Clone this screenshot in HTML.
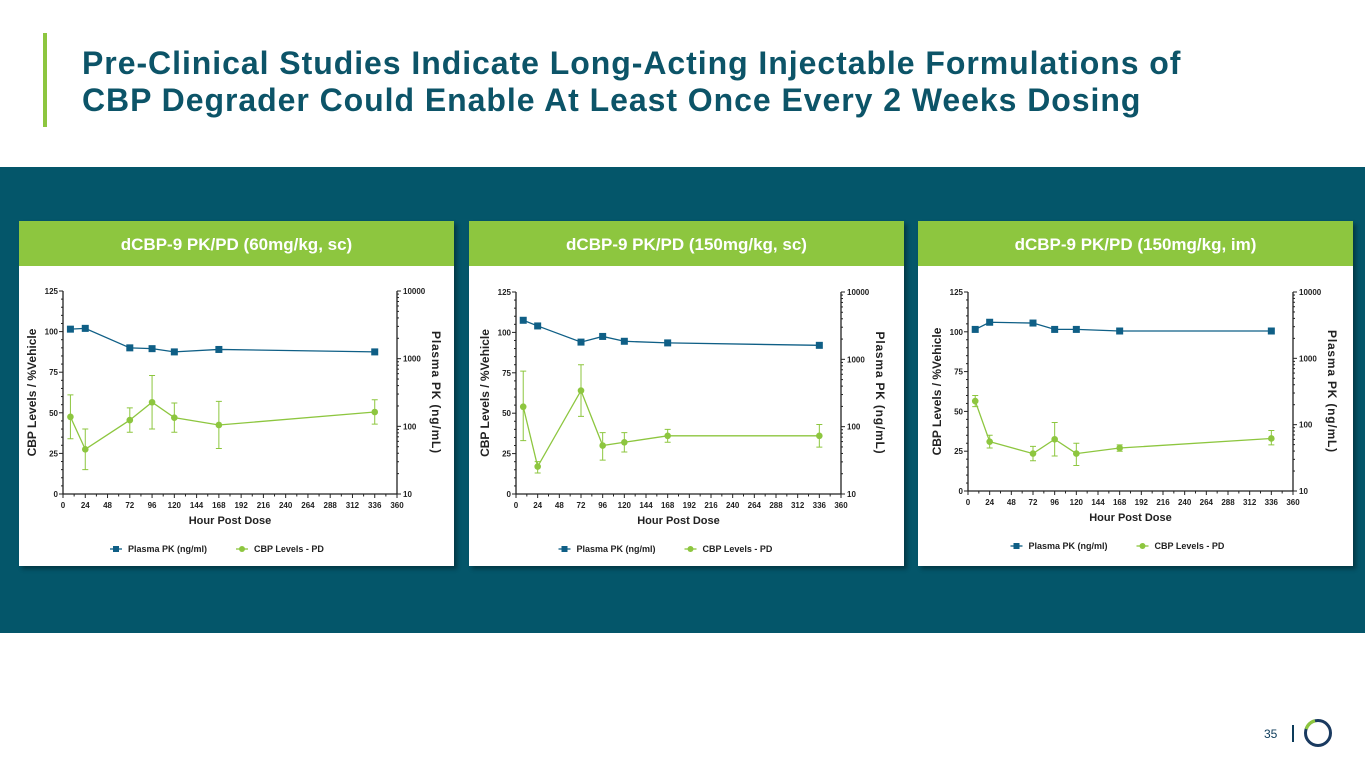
<!DOCTYPE html>
<html><head><meta charset="utf-8">
<style>
body{margin:0;width:1365px;height:768px;overflow:hidden;background:#fff;font-family:"Liberation Sans",Arial,sans-serif;position:relative}
.abs{position:absolute}
#title{left:82px;top:45px;font-size:32px;font-weight:bold;color:#0c5468;line-height:37px;letter-spacing:0.95px;white-space:nowrap}
#bar{left:43px;top:33px;width:4px;height:94px;background:#8dc63f}
#band{left:0;top:167px;width:1365px;height:466px;background:#04566a}
.panel{background:#fff;top:221px;height:345px;width:435px;box-shadow:3px 3px 4px rgba(0,0,0,.35)}
.head{position:absolute;left:0;top:0;width:100%;height:45px;background:#8dc63f;color:#fff;font-weight:bold;font-size:17px;text-align:center;line-height:47px}
svg text{font-family:"Liberation Sans",Arial,sans-serif;font-weight:bold;fill:#222}
</style></head><body>
<div class="abs" id="bar"></div>
<div class="abs" id="title">Pre-Clinical Studies Indicate Long-Acting Injectable Formulations of<br>CBP Degrader Could Enable At Least Once Every 2 Weeks Dosing</div>
<div class="abs" id="band"></div>
<div class="abs panel" style="left:19px"><div class="head">dCBP-9 PK/PD (60mg/kg, sc)</div></div>
<div class="abs panel" style="left:469px"><div class="head">dCBP-9 PK/PD (150mg/kg, sc)</div></div>
<div class="abs panel" style="left:918px"><div class="head">dCBP-9 PK/PD (150mg/kg, im)</div></div>
<svg class="abs" style="left:0;top:0" width="1365" height="768" id="charts"></svg>
<div class="abs" style="left:1264px;top:727px;font-size:12px;color:#0c3b5a">35</div>
<div class="abs" style="left:1292px;top:725px;width:1.5px;height:17px;background:#0c3b5a"></div>
<svg class="abs" style="left:1303px;top:718px" width="30" height="30">
<circle cx="15" cy="15" r="12.5" fill="none" stroke="#1a3a60" stroke-width="3"/>
<path d="M3.2 11 A12.5 12.5 0 0 1 12 2.8" fill="none" stroke="#8dc63f" stroke-width="3.2"/>
</svg>
<script>
const hours1=[8,24,72,96,120,168,336];
const pk1=[2730,2805,1445,1406,1259,1368,1259];
const pkErr1=[0.08,0.1,0.02,0.02,0.02,0.02,0.08];
const pd1=[47.5,27.5,45.5,56.5,47,42.5,50.5];
const pdLo1=[34,15,38,40,38,28,43];
const pdHi1=[61,40,53,73,56,57,58];
const hours2=[8,24,72,96,120,168,336];
const pk2=[3802,3133,1803,2188,1854,1754,1614];
const pkErr2=[0.02,0.02,0.08,0.02,0.05,0.02,0.02];
const pd2=[54,17,64,30,32,36,36];
const pdLo2=[33,13,48,21,26,32,29];
const pdHi2=[76,20,80,38,38,40,43];
const hours3=[8,24,72,96,120,168,336];
const pk3=[2729,3499,3404,2729,2729,2582,2582];
const pkErr3=[0.02,0.02,0.02,0.02,0.02,0.02,0.05];
const pd3=[56.5,31,23.5,32.5,23.5,27,33];
const pdLo3=[53,27,19,22,16,25,29];
const pdHi3=[60,35,28,43,30,29,38];
const xTicks=[0,24,48,72,96,120,144,168,192,216,240,264,288,312,336,360];
const yTicks=[0,25,50,75,100,125];
const rTicks=[10,100,1000,10000];
const NS='http://www.w3.org/2000/svg';
const svg=document.getElementById('charts');
function el(t,a,p){const e=document.createElementNS(NS,t);for(const k in a)e.setAttribute(k,a[k]);(p||svg).appendChild(e);return e;}
function txt(s,a,p){const e=el('text',a,p);e.textContent=s;return e;}
const BLUE='#0f5f86',GREEN='#8dc63f';
function chart(name,x0,x1,y0,y1,hours,pk,pkErr,pd,lo,hi){
  const g=el('g',{});
  
  
  const X=h=>x0+(x1-x0)*h/360;
  const Y=v=>y0-(y0-y1)*v/125;
  const YL=p=>y0-(y0-y1)*(Math.log10(p)-1)/3;
  el('path',{d:`M${x0} ${y1}V${y0}H${x1}`,stroke:'#222','stroke-width':1.3,fill:'none'},g);
  el('path',{d:`M${x1} ${y1}V${y0}`,stroke:'#222','stroke-width':1.3,fill:'none'},g);
  xTicks.forEach((t,i)=>{el('line',{x1:X(t),x2:X(t),y1:y0,y2:y0+4,stroke:'#222'},g);
    if(i<xTicks.length-1)el('line',{x1:X(t+12),x2:X(t+12),y1:y0,y2:y0+2.5,stroke:'#222'},g);
    txt(t,{x:X(t),y:y0+14,'font-size':8,'text-anchor':'middle'},g);});
  yTicks.forEach(t=>{el('line',{x1:x0-4,x2:x0,y1:Y(t),y2:Y(t),stroke:'#222'},g);
    txt(t,{x:x0-5,y:Y(t)+3,'font-size':8,'text-anchor':'end'},g);});
  for(let t=5;t<125;t+=5)if(t%25)el('line',{x1:x0-2,x2:x0,y1:Y(t),y2:Y(t),stroke:'#222'},g);
  rTicks.forEach(t=>{el('line',{x1:x1,x2:x1+4,y1:YL(t),y2:YL(t),stroke:'#222'},g);
    txt(t,{x:x1+6,y:YL(t)+3,'font-size':8},g);});
  for(let d=10;d<10000;d*=10)for(let m=2;m<10;m++)el('line',{x1:x1,x2:x1+2,y1:YL(d*m),y2:YL(d*m),stroke:'#222'},g);
  const ym=(y0+y1)/2;
  txt('CBP Levels / %Vehicle',{x:0,y:0,'font-size':12,'text-anchor':'middle',transform:`translate(${x0-27},${ym}) rotate(-90)`},g);
  txt('Plasma  PK (ng/mL)',{x:0,y:0,'font-size':12,'letter-spacing':0.8,'text-anchor':'middle',transform:`translate(${x1+35},${ym}) rotate(90)`},g);
  txt('Hour Post Dose',{x:(x0+x1)/2,y:y0+30,'font-size':11,'text-anchor':'middle'},g);
  const lx=(x0+x1)/2-120, ly=y0+55;
  el('line',{x1:lx,x2:lx+12,y1:ly,y2:ly,stroke:BLUE,'stroke-width':1.3},g);
  el('rect',{x:lx+3,y:ly-3,width:6,height:6,fill:BLUE},g);
  txt('Plasma PK (ng/ml)',{x:lx+18,y:ly+3,'font-size':9},g);
  el('line',{x1:lx+126,x2:lx+138,y1:ly,y2:ly,stroke:GREEN,'stroke-width':1.3},g);
  el('circle',{cx:lx+132,cy:ly,r:3,fill:GREEN},g);
  txt('CBP Levels - PD',{x:lx+144,y:ly+3,'font-size':9},g);
  el('polyline',{points:hours.map((h,i)=>X(h)+','+YL(pk[i])).join(' '),fill:'none',stroke:BLUE,'stroke-width':1.3},g);
  hours.forEach((h,i)=>{const a=YL(pk[i]*(1+pkErr[i])),b=YL(pk[i]/(1+pkErr[i]));
    el('path',{d:`M${X(h)} ${a}V${b}M${X(h)-3} ${a}h6M${X(h)-3} ${b}h6`,stroke:BLUE,fill:'none'},g);
    el('rect',{x:X(h)-3.5,y:YL(pk[i])-3.5,width:7,height:7,fill:BLUE},g);});
  el('polyline',{points:hours.map((h,i)=>X(h)+','+Y(pd[i])).join(' '),fill:'none',stroke:GREEN,'stroke-width':1.3},g);
  hours.forEach((h,i)=>{const a=Y(hi[i]),b=Y(lo[i]);
    el('path',{d:`M${X(h)} ${a}V${b}M${X(h)-3} ${a}h6M${X(h)-3} ${b}h6`,stroke:GREEN,fill:'none'},g);
    el('circle',{cx:X(h),cy:Y(pd[i]),r:3.3,fill:GREEN},g);});
}
chart('chart-60mg-sc',63,397,494,291,hours1,pk1,pkErr1,pd1,pdLo1,pdHi1);
chart('chart-150mg-sc',516,841,494,292,hours2,pk2,pkErr2,pd2,pdLo2,pdHi2);
chart('chart-150mg-im',968,1293,491,292,hours3,pk3,pkErr3,pd3,pdLo3,pdHi3);
</script>
</body></html>
